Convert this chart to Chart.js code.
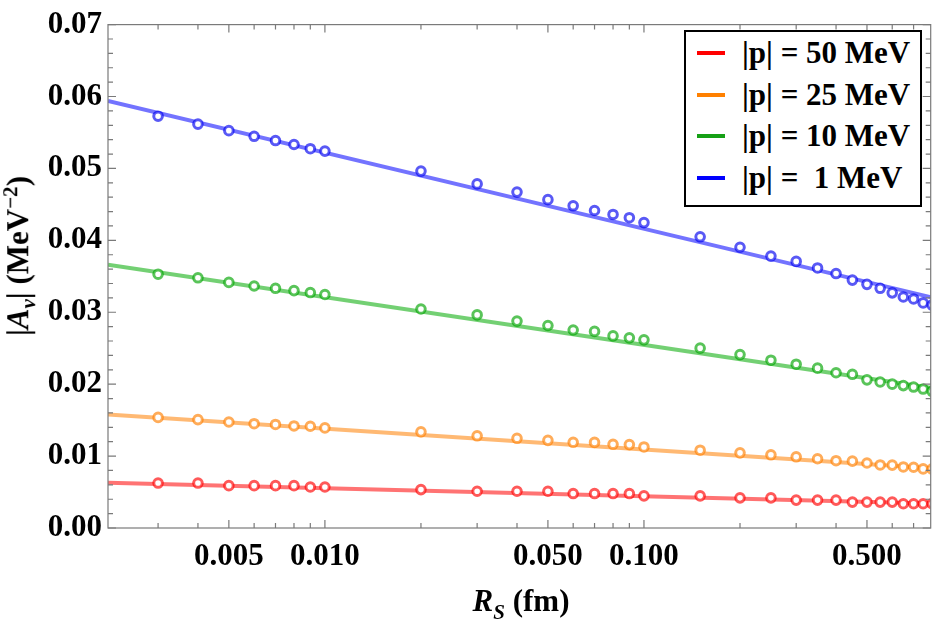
<!DOCTYPE html>
<html>
<head>
<meta charset="utf-8">
<script src="https://cdn.jsdelivr.net/npm/chart.js@4"></script>
<style>
body { margin: 0; background: #fff; }
#wrap { position: relative; width: 938px; height: 621px; font-family: "Liberation Serif", serif; font-weight: bold; color: #000; }
#legend { position: absolute; left: 684px; top: 30px; width: 234px; height: 173px; border: 2px solid #000; background: #fff; }
.row { position: relative; height: 41.7px; line-height: 41.7px; font-size: 31px; white-space: pre; }
.swatch { position: absolute; left: 11px; top: 19px; width: 28px; height: 4px; }
.txt { position: absolute; left: 56px; top: 0; }
#ytitle { position: absolute; left: 20px; top: 256px; transform: translate(-50%, -50%) rotate(-90deg); font-size: 31px; white-space: nowrap; }
#xtitle { position: absolute; left: 521px; top: 604px; transform: translate(-50%, -50%); font-size: 31px; white-space: nowrap; }
sub, sup { font-size: 21px; }
</style>
</head>
<body>
<div id="wrap">
  <canvas id="myChart" width="938" height="621"></canvas>
  <div id="legend"></div>
  <div id="ytitle">|<i>A<sub>ν</sub></i>| (MeV<sup>−2</sup>)</div>
  <div id="xtitle"><i>R<sub>S</sub></i> (fm)</div>
</div>
<script>
// R_S values (fm)
var rs = [0.003,0.004,0.005,0.006,0.007,0.008,0.009,0.01,
          0.02,0.03,0.04,0.05,0.06,0.07,0.08,0.09,0.1,
          0.15,0.2,0.25,0.3,0.35,0.4,0.45,0.5,0.55,0.6,0.65,0.7,0.75,0.8]

// |A_nu| points for each |p|
var p50 = [0.00625,0.00625,0.00589,0.00589,0.00589,0.00589,0.00570,0.00570,
           0.00534,0.00511,0.00511,0.00511,0.00479,0.00479,0.00479,0.00479,0.00447,
           0.00447,0.00419,0.00419,0.00388,0.00388,0.00388,0.00360,0.00360,0.00360,0.00360,0.00337,0.00337,0.00337,0.00337]
var p25 = [0.01538,0.01507,0.01474,0.01450,0.01440,0.01419,0.01415,0.01392,
           0.01337,0.01282,0.01247,0.01219,0.01192,0.01190,0.01164,0.01160,0.01127,
           0.01082,0.01045,0.01018,0.00990,0.00963,0.00936,0.00930,0.00904,0.00877,0.00875,0.00849,0.00845,0.00822,0.00820]
var p10 = [0.03529,0.03479,0.03415,0.03365,0.03333,0.03301,0.03274,0.03247,
           0.03045,0.02963,0.02877,0.02816,0.02753,0.02734,0.02671,0.02644,0.02616,
           0.02501,0.02411,0.02333,0.02278,0.02223,0.02159,0.02137,0.02060,0.02030,0.02000,0.01980,0.01960,0.01932,0.01900]
var p1  = [0.05726,0.05616,0.05525,0.05447,0.05388,0.05333,0.05274,0.05241,
           0.04963,0.04785,0.04671,0.04566,0.04480,0.04415,0.04360,0.04315,0.04247,
           0.04049,0.03904,0.03781,0.03707,0.03616,0.03538,0.03447,0.03388,0.03333,0.03270,0.03212,0.03185,0.03130,0.03100]

// fitted lines, value at left and right edge of the plot
var fitX   = [0.00209, 0.792]
var fit50  = [0.0063, 0.0034]
var fit25  = [0.0158, 0.0083]
var fit10  = [0.0366, 0.0195]
var fit1   = [0.0594, 0.0321]

var legend_labels = ['|p| = 50 MeV', '|p| = 25 MeV', '|p| = 10 MeV', '|p| =  1 MeV']
var legend_colors = ['#ff0000', '#ff8000', '#16a016', '#0000ff']

var xMajor = [0.005, 0.01, 0.05, 0.1, 0.5]
var xMinor = [0.003,0.004,0.006,0.007,0.008,0.009,0.02,0.03,0.04,0.06,0.07,0.08,0.09,0.2,0.3,0.4,0.6,0.7]
var yMajor = [0,0.01,0.02,0.03,0.04,0.05,0.06,0.07]
var yMinor = [0.002,0.004,0.006,0.008,0.012,0.014,0.016,0.018,0.022,0.024,0.026,0.028,0.032,0.034,0.036,0.038,
              0.042,0.044,0.046,0.048,0.052,0.054,0.056,0.058,0.062,0.064,0.066,0.068]

function pts(xs, ys) {
    var out = []
    for (i = 0; i < xs.length; i++) {
        out.push({x: xs[i], y: ys[i]})
    }
    return out
}

var series = [
    {pts: p50, fit: fit50, line: 'rgba(255,0,0,0.55)',   mark: 'rgba(255,0,0,0.65)'},
    {pts: p25, fit: fit25, line: 'rgba(255,128,0,0.55)', mark: 'rgba(255,128,0,0.65)'},
    {pts: p10, fit: fit10, line: 'rgba(0,170,0,0.55)',   mark: 'rgba(0,165,0,0.65)'},
    {pts: p1,  fit: fit1,  line: 'rgba(0,0,255,0.55)',   mark: 'rgba(0,0,240,0.65)'}
]

var data_set = []
for (s = 0; s < series.length; s++) {
    data_set.push({
        data: pts(fitX, series[s].fit),
        showLine: true,
        borderColor: series[s].line,
        borderWidth: 4,
        pointRadius: 0,
        order: 2,
        clip: 0
    })
    data_set.push({
        data: pts(rs, series[s].pts),
        showLine: false,
        borderColor: series[s].mark,
        backgroundColor: '#ffffff',
        borderWidth: 3,
        pointRadius: 4.3,
        order: 1,
        clip: 0
    })
}

// legend box
var legend = document.getElementById('legend')
for (i = 0; i < legend_labels.length; i++) {
    var row = document.createElement('div')
    row.className = 'row'
    var sw = document.createElement('div')
    sw.className = 'swatch'
    sw.style.backgroundColor = legend_colors[i]
    var tx = document.createElement('span')
    tx.className = 'txt'
    tx.textContent = legend_labels[i]
    row.appendChild(sw)
    row.appendChild(tx)
    legend.appendChild(row)
}

// frame with inward ticks on all four sides, like the original
const frame_plugin = {
    id: 'frame_ticks',
    afterDraw: (chart) => {
        const ctx = chart.ctx
        const a = chart.chartArea
        const xs = chart.scales.x
        const ys = chart.scales.y
        ctx.save()
        ctx.strokeStyle = '#7a7a7a'
        ctx.lineWidth = 1.2
        ctx.strokeRect(a.left, a.top, a.right - a.left, a.bottom - a.top)
        function xtick(v, len) {
            var px = xs.getPixelForValue(v)
            ctx.beginPath()
            ctx.moveTo(px, a.bottom); ctx.lineTo(px, a.bottom - len)
            ctx.moveTo(px, a.top); ctx.lineTo(px, a.top + len)
            ctx.stroke()
        }
        function ytick(v, len) {
            var py = ys.getPixelForValue(v)
            ctx.beginPath()
            ctx.moveTo(a.left, py); ctx.lineTo(a.left + len, py)
            ctx.moveTo(a.right, py); ctx.lineTo(a.right - len, py)
            ctx.stroke()
        }
        xMajor.forEach(v => xtick(v, 8))
        xMinor.forEach(v => xtick(v, 5))
        yMajor.forEach(v => ytick(v, 8))
        yMinor.forEach(v => ytick(v, 5))
        ctx.restore()
    }
}

var tick_font = {family: 'Liberation Serif', size: 31, weight: 'bold'}

new Chart(document.getElementById('myChart').getContext('2d'), {
    type: 'scatter',
    data: {datasets: data_set},
    options: {
        responsive: false,
        animation: false,
        layout: {padding: {top: 17, right: 5, left: 0, bottom: 0}},
        plugins: {legend: {display: false}, tooltip: {enabled: false}},
        scales: {
            x: {
                type: 'logarithmic',
                min: fitX[0],
                max: fitX[1],
                grid: {display: false, drawTicks: false},
                border: {display: false},
                afterBuildTicks: (scale) => { scale.ticks = xMajor.map(v => ({value: v})) },
                afterFit: (scale) => { scale.height = 93 },
                ticks: {
                    autoSkip: false,
                    maxRotation: 0,
                    padding: 10,
                    color: '#000',
                    font: tick_font,
                    callback: (v) => Number(v).toFixed(3)
                }
            },
            y: {
                min: 0,
                max: 0.07,
                grid: {display: false, drawTicks: false},
                border: {display: false},
                afterBuildTicks: (scale) => { scale.ticks = yMajor.map(v => ({value: v})) },
                afterFit: (scale) => { scale.width = 108 },
                ticks: {
                    padding: 6,
                    color: '#000',
                    font: tick_font,
                    callback: (v) => Number(v).toFixed(2)
                }
            }
        }
    },
    plugins: [frame_plugin]
})
</script>
</body>
</html>
